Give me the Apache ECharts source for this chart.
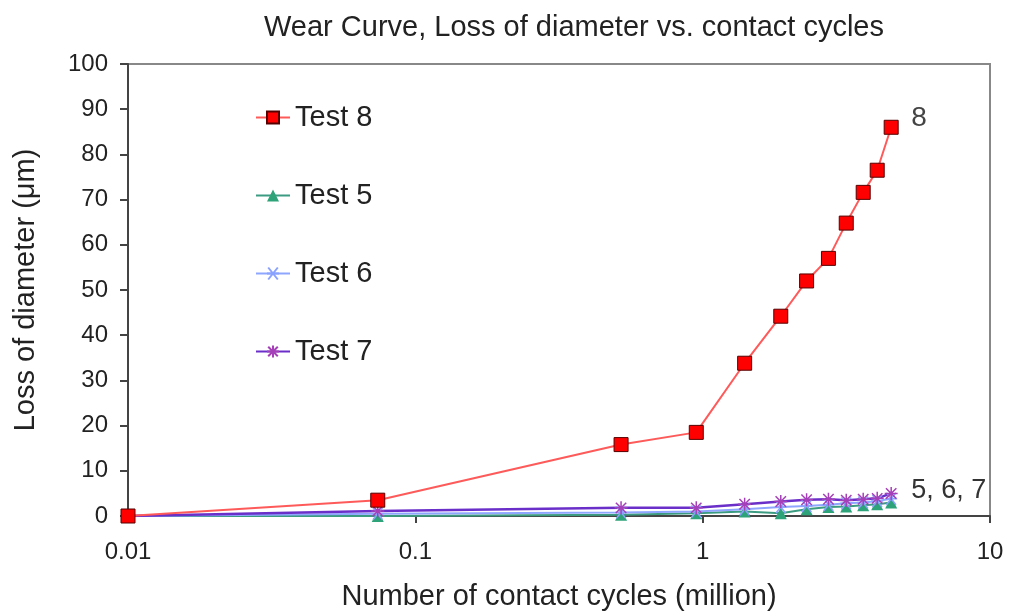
<!DOCTYPE html>
<html>
<head>
<meta charset="utf-8">
<script src="https://cdn.jsdelivr.net/npm/echarts@6/dist/echarts.min.js"></script>
<style>
  html, body { margin: 0; padding: 0; background: #fff; }
  #wear { width: 1017px; height: 616px; }
</style>
</head>
<body>
<div id="wear"></div>
<script>
// contact cycles (million), shared by all tests
const cycles = [0.01, 0.074, 0.52, 0.95, 1.4, 1.87, 2.3, 2.74, 3.16, 3.62, 4.05, 4.53];
// loss of diameter (um)
const test8 = [0, 3.5, 15.8, 18.5, 33.8, 44.2, 52, 57, 64.8, 71.6, 76.5, 86];
const test5 = [0, 0, 0.3, 0.6, 1, 0.6, 1.5, 2, 2.1, 2.4, 2.6, 3];
const test6 = [0, 0.5, 0.8, 1, 1.5, 2, 2.2, 2.5, 2.8, 3, 3.3, 3.8];
const test7 = [0, 1.1, 1.8, 1.8, 2.6, 3.2, 3.6, 3.7, 3.5, 3.7, 3.9, 5];
const xTicks = [0.01, 0.1, 1, 10];

const font = '"Liberation Sans", Arial, sans-serif';
const asterisk = 'path://M0,5L10,5M5,0L5,10M1,1L9,9M9,1L1,9';
const cross = 'path://M1,1L9,9M9,1L1,9M0,5L10,5';

const pairs = ys => cycles.map((c, i) => [c, ys[i]]);

const chart = echarts.init(document.getElementById('wear'));
chart.setOption({
    animation: false,
    backgroundColor: '#fff',
    textStyle: { fontFamily: font },
    title: {
        text: 'Wear Curve, Loss of diameter vs. contact cycles',
        left: 569,
        textAlign: 'center',
        top: 8,
        textStyle: { fontFamily: font, fontSize: 29, fontWeight: 'normal', color: '#222' }
    },
    legend: {
        orient: 'vertical',
        left: 250,
        top: 98,
        itemGap: 49,
        itemWidth: 34,
        itemHeight: 15,
        textStyle: { fontFamily: font, fontSize: 29, color: '#222' },
        data: ['Test 8', 'Test 5', 'Test 6', 'Test 7']
    },
    grid: {
        left: 128, right: 27, top: 64, bottom: 97,
        show: true,
        borderColor: '#888',
        borderWidth: 2
    },
    xAxis: {
        type: 'log',
        logBase: 10,
        min: 0.01,
        max: 10,
        name: 'Number of contact cycles (million)',
        nameLocation: 'middle',
        nameGap: 66,
        nameTextStyle: { fontFamily: font, fontSize: 29, color: '#222' },
        axisLine: { lineStyle: { color: '#444', width: 2 } },
        axisTick: { show: true, length: 7, lineStyle: { color: '#444', width: 2 } },
        axisLabel: {
            fontFamily: font, fontSize: 24, color: '#222', margin: 24,
            formatter: v => xTicks.find(t => Math.abs(t - v) / t < 1e-6)?.toString() ?? ''
        },
        splitLine: { show: false },
        minorTick: { show: false }
    },
    yAxis: {
        type: 'value',
        min: 0,
        max: 100,
        interval: 10,
        name: 'Loss of diameter (\u03bcm)',
        nameLocation: 'middle',
        nameGap: 88,
        nameTextStyle: { fontFamily: font, fontSize: 29, color: '#222' },
        axisLine: { show: true, lineStyle: { color: '#444', width: 2 } },
        axisTick: { show: true, length: 8, lineStyle: { color: '#444', width: 2 } },
        axisLabel: { fontFamily: font, fontSize: 24, color: '#222', margin: 20 },
        splitLine: { show: false }
    },
    series: [
        {
            name: 'Test 8',
            type: 'line',
            data: pairs(test8),
            symbol: 'rect',
            symbolSize: 14,
            z: 5,
            itemStyle: { color: '#ff0000', borderColor: '#550000', borderWidth: 1 },
            lineStyle: { color: '#ff5a5a', width: 2 },
            endLabel: {
                show: true, formatter: '8', distance: 20, offset: [0, -9],
                fontFamily: font, fontSize: 28, color: '#444'
            }
        },
        {
            name: 'Test 5',
            type: 'line',
            data: pairs(test5),
            symbol: 'triangle',
            symbolSize: 12,
            itemStyle: { color: '#2ea37a' },
            lineStyle: { color: '#3c9c82', width: 2 }
        },
        {
            name: 'Test 6',
            type: 'line',
            data: pairs(test6),
            symbol: cross,
            symbolSize: 12,
            itemStyle: { color: '#9fb4ff', borderColor: '#8aa2ff', borderWidth: 1.5 },
            lineStyle: { color: '#8fa6ff', width: 2 }
        },
        {
            name: 'Test 7',
            type: 'line',
            data: pairs(test7),
            symbol: asterisk,
            symbolSize: 13,
            itemStyle: { color: '#8b2c9e', borderColor: '#a640b8', borderWidth: 1.5 },
            lineStyle: { color: '#6a2fc9', width: 2.5 },
            endLabel: {
                show: true, formatter: '5, 6, 7', distance: 20, offset: [0, -3],
                fontFamily: font, fontSize: 27, color: '#333'
            }
        }
    ]
});
</script>
</body>
</html>
